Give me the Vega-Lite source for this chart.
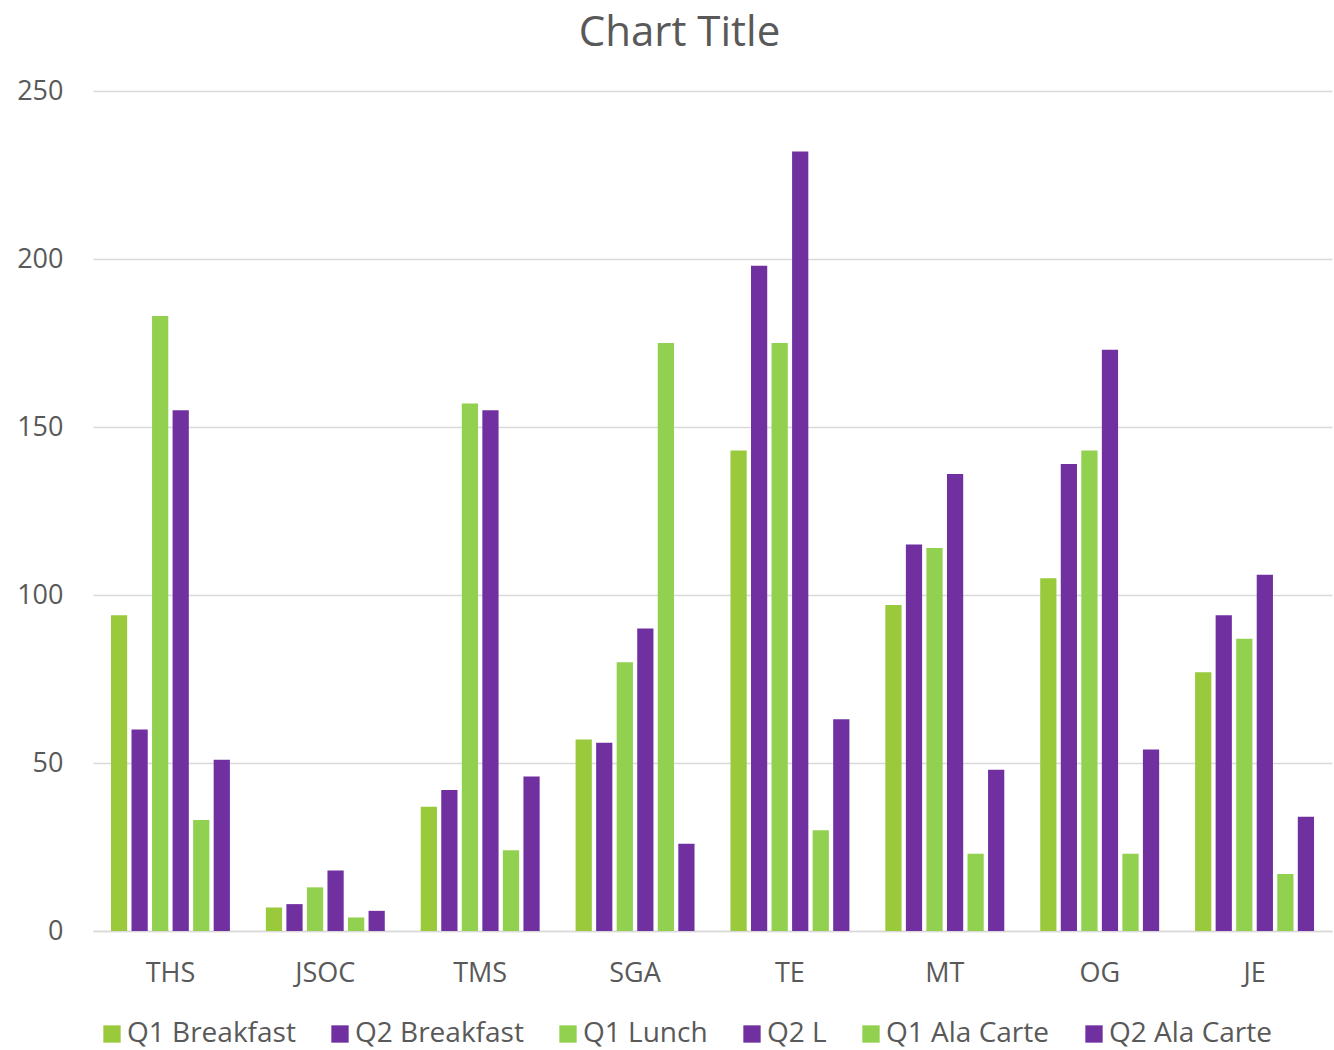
{
  "$schema": "https://vega.github.io/schema/vega-lite/v6.json",
  "autosize": "none",
  "width": 1239,
  "height": 840,
  "padding": {"left": 93, "top": 91, "right": 2, "bottom": 119},
  "background": "white",
  "title": {"text": "Chart Title", "font": "Open Sans", "fontSize": 42, "fontWeight": "normal", "color": "#595959", "anchor": "middle", "dx": -33, "offset": 22},
  "config": {
    "view": {"stroke": null},
    "font": "Open Sans"
  },
  "data": {"values": [
    {"school": "THS", "series": "Q1 Breakfast", "value": 94},
    {"school": "THS", "series": "Q2 Breakfast", "value": 60},
    {"school": "THS", "series": "Q1 Lunch", "value": 183},
    {"school": "THS", "series": "Q2 L", "value": 155},
    {"school": "THS", "series": "Q1 Ala Carte", "value": 33},
    {"school": "THS", "series": "Q2 Ala Carte", "value": 51},
    {"school": "JSOC", "series": "Q1 Breakfast", "value": 7},
    {"school": "JSOC", "series": "Q2 Breakfast", "value": 8},
    {"school": "JSOC", "series": "Q1 Lunch", "value": 13},
    {"school": "JSOC", "series": "Q2 L", "value": 18},
    {"school": "JSOC", "series": "Q1 Ala Carte", "value": 4},
    {"school": "JSOC", "series": "Q2 Ala Carte", "value": 6},
    {"school": "TMS", "series": "Q1 Breakfast", "value": 37},
    {"school": "TMS", "series": "Q2 Breakfast", "value": 42},
    {"school": "TMS", "series": "Q1 Lunch", "value": 157},
    {"school": "TMS", "series": "Q2 L", "value": 155},
    {"school": "TMS", "series": "Q1 Ala Carte", "value": 24},
    {"school": "TMS", "series": "Q2 Ala Carte", "value": 46},
    {"school": "SGA", "series": "Q1 Breakfast", "value": 57},
    {"school": "SGA", "series": "Q2 Breakfast", "value": 56},
    {"school": "SGA", "series": "Q1 Lunch", "value": 80},
    {"school": "SGA", "series": "Q2 L", "value": 90},
    {"school": "SGA", "series": "Q1 Ala Carte", "value": 175},
    {"school": "SGA", "series": "Q2 Ala Carte", "value": 26},
    {"school": "TE", "series": "Q1 Breakfast", "value": 143},
    {"school": "TE", "series": "Q2 Breakfast", "value": 198},
    {"school": "TE", "series": "Q1 Lunch", "value": 175},
    {"school": "TE", "series": "Q2 L", "value": 232},
    {"school": "TE", "series": "Q1 Ala Carte", "value": 30},
    {"school": "TE", "series": "Q2 Ala Carte", "value": 63},
    {"school": "MT", "series": "Q1 Breakfast", "value": 97},
    {"school": "MT", "series": "Q2 Breakfast", "value": 115},
    {"school": "MT", "series": "Q1 Lunch", "value": 114},
    {"school": "MT", "series": "Q2 L", "value": 136},
    {"school": "MT", "series": "Q1 Ala Carte", "value": 23},
    {"school": "MT", "series": "Q2 Ala Carte", "value": 48},
    {"school": "OG", "series": "Q1 Breakfast", "value": 105},
    {"school": "OG", "series": "Q2 Breakfast", "value": 139},
    {"school": "OG", "series": "Q1 Lunch", "value": 143},
    {"school": "OG", "series": "Q2 L", "value": 173},
    {"school": "OG", "series": "Q1 Ala Carte", "value": 23},
    {"school": "OG", "series": "Q2 Ala Carte", "value": 54},
    {"school": "JE", "series": "Q1 Breakfast", "value": 77},
    {"school": "JE", "series": "Q2 Breakfast", "value": 94},
    {"school": "JE", "series": "Q1 Lunch", "value": 87},
    {"school": "JE", "series": "Q2 L", "value": 106},
    {"school": "JE", "series": "Q1 Ala Carte", "value": 17},
    {"school": "JE", "series": "Q2 Ala Carte", "value": 34}
  ]},
  "mark": {"type": "bar"},
  "encoding": {
    "x": {
      "field": "school", "type": "nominal",
      "sort": ["THS", "JSOC", "TMS", "SGA", "TE", "MT", "OG", "JE"],
      "scale": {"paddingInner": 0.232, "paddingOuter": 0.116},
      "axis": {"title": null, "labelAngle": 0, "labelFont": "Open Sans", "labelFontSize": 27, "labelColor": "#595959", "labelPadding": 29, "ticks": false, "domainColor": "#D9D9D9", "domainWidth": 1.5, "grid": false}
    },
    "xOffset": {
      "field": "series", "type": "nominal",
      "sort": ["Q1 Breakfast", "Q2 Breakfast", "Q1 Lunch", "Q2 L", "Q1 Ala Carte", "Q2 Ala Carte"],
      "scale": {"paddingInner": 0.21, "paddingOuter": 0}
    },
    "y": {
      "field": "value", "type": "quantitative",
      "scale": {"domain": [0, 250], "nice": false},
      "axis": {"title": null, "values": [0, 50, 100, 150, 200, 250], "labelFont": "Open Sans", "labelFontSize": 27, "labelColor": "#595959", "labelPadding": 30, "ticks": false, "domain": false, "gridColor": "#D9D9D9", "gridWidth": 1.5}
    },
    "color": {
      "field": "series", "type": "nominal",
      "sort": ["Q1 Breakfast", "Q2 Breakfast", "Q1 Lunch", "Q2 L", "Q1 Ala Carte", "Q2 Ala Carte"],
      "scale": {"domain": ["Q1 Breakfast", "Q2 Breakfast", "Q1 Lunch", "Q2 L", "Q1 Ala Carte", "Q2 Ala Carte"], "range": ["#9ACA3C", "#7030A0", "#92D050", "#7030A0", "#92D050", "#7030A0"]},
      "legend": {"title": null, "orient": "none", "direction": "horizontal", "columns": 6, "legendX": 5, "legendY": 929, "symbolType": "square", "symbolSize": 300, "symbolStrokeWidth": 0, "symbolOpacity": 1, "labelFont": "Open Sans", "labelFontSize": 28, "labelColor": "#595959", "labelOffset": 1, "columnPadding": 30, "labelLimit": 400}
    }
  }
}
